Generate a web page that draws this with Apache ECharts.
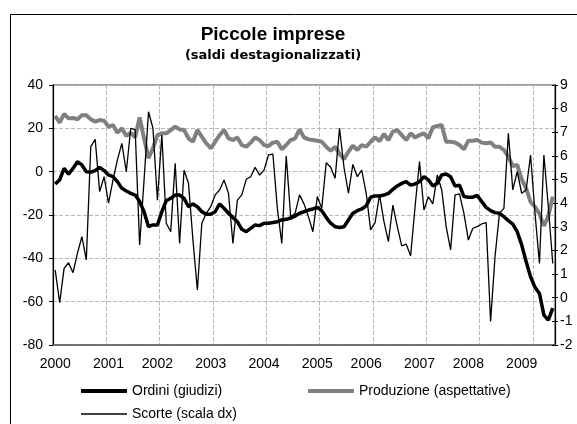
<!DOCTYPE html>
<html>
<head>
<meta charset="utf-8">
<script src="https://cdn.jsdelivr.net/npm/echarts@6/dist/echarts.min.js"></script>
<style>html,body{margin:0;padding:0;background:#fff}#c{width:577px;height:424px}</style>
</head>
<body>
<div id="c"></div>
<script>
// ---- data ----
var yearLabels = ['2000','2001','2002','2003','2004','2005','2006','2007','2008','2009'];
var yearLabelIndex = [0,12,23,35,47,59,70,82,93,105];
var startYear = 2000, nMonths = 113;

var ordini = [-5.7,-3.8,1.5,-1.2,1.5,4.6,3.1,0,-0.2,0.5,2,0.5,
-1.5,-2.3,-4.6,-7.7,-8.9,-10,-10.8,-13.8,-18.5,-25.4,-24.6,-24.6,
-18.5,-13.4,-12.3,-10.8,-10.8,-12.3,-16.2,-14.9,-16.2,-18.5,-19.7,-19.7,
-18.5,-14.9,-16.9,-19.2,-21.1,-23.1,-26.6,-27.7,-26.2,-24.6,-24.9,-23.8,
-23.8,-23.5,-23.1,-22.3,-22,-21.4,-20.5,-19.2,-18.5,-17.7,-17.2,-16.5,
-18,-21.1,-23.8,-25.4,-25.8,-25.4,-22.3,-19.2,-18,-17.2,-15.8,-11.8,
-11.2,-11.2,-10.8,-10,-8.2,-6.6,-5.4,-4.6,-6.2,-5.7,-4.6,-2.3,
-3.8,-6.6,-5.4,-1.5,-1.1,-2.3,-6.6,-6.2,-11.5,-11.8,-11.8,-11,
-13.8,-16.5,-18,-18.9,-19.2,-20.8,-22.6,-24.2,-27.7,-33.8,-41.5,-48.5,
-53.4,-56.2,-66.2,-68.5,-63];

var produzione = [25.7,22.6,26.6,24.6,24.8,24.2,26,26,24.2,23.1,23.8,23.5,
20.8,21.5,18,20,16.5,18,15.8,25,15.4,6.2,10.8,16.9,
17.7,17.7,19.2,20.8,19.5,19.2,15.4,13.8,19.2,16.2,13.1,10.8,
13.8,16.9,19.2,15.4,14.6,15.8,12.3,11.5,13.4,15.8,14.6,12.3,
11.8,13.4,13.8,10.3,12.3,14.6,15.4,19.5,15.8,14.9,14.6,14.3,
13.8,11.5,9.7,11.5,8.2,5.7,9.2,12,10,12.3,11.5,13.8,
15.8,14.1,17.4,14.6,18.5,19.2,16.9,14.6,17.7,15.8,16.9,17.7,
15.4,20.5,21.1,21.5,13.8,13.8,13.5,12.3,10.3,14.3,14.3,14.6,
13.4,13.1,13.5,11.5,11.5,10,6.9,2.6,3.1,-3.5,-7.7,-14,
-16.2,-19.5,-25,-20.5,-11.5];

var scorte = [1.17,-0.21,1.24,1.48,1.06,1.88,2.58,1.6,6.39,6.7,4.49,5.12,
4.0,4.98,5.83,6.53,5.33,7.17,7.1,2.23,4.98,7.87,7.17,4.13,
6.88,3.15,2.79,5.69,2.3,5.4,4.84,2.44,0.33,3.15,3.57,3.85,
4.35,4.56,4.98,4.42,2.3,4.13,4.35,5.01,5.12,5.52,5.19,5.4,
6.04,6.08,3.78,2.3,6.0,3.43,3.57,4.35,3.97,3.43,2.79,4.28,
3.78,5.71,5.52,5.05,7.17,5.52,4.42,5.64,5.12,5.4,4.42,2.87,
3.18,4.35,3.22,2.37,3.92,3.01,2.19,2.27,1.77,3.85,5.76,3.71,
4.28,3.97,5.19,4.56,3.01,2.02,4.35,4.39,3.57,2.44,2.94,3.01,
3.12,3.18,-1.0,1.74,3.57,3.78,6.96,4.56,5.33,4.42,4.56,6.04,
3.57,1.45,6.04,3.85,1.45];

var leftTicks = {min:-80, max:40, interval:20};
var rightTicks = {min:-2, max:9, interval:1};

// ---- build ----
var months = [];
for (var k = 0; k < nMonths; k++) {
  var y = startYear + Math.floor(k / 12), m = (k % 12) + 1;
  months.push(y + '-' + (m < 10 ? '0' + m : m));
}
var FONT = "'Liberation Sans', Arial, sans-serif";
var GRIDSTYLE = {color:'#b8b8b8', type:'dashed', width:1};
var chart = echarts.init(document.getElementById('c'), null, {renderer:'canvas'});
chart.setOption({
  animation: false,
  backgroundColor: '#fff',
  title: [
    {text:'Piccole imprese', left:273, top:25, textAlign:'center', padding:0,
     textStyle:{fontFamily:FONT, fontSize:19, fontWeight:'bold', color:'#000'}},
    {text:'(saldi destagionalizzati)', left:273, top:49, textAlign:'center', padding:0,
     textStyle:{fontFamily:"'DejaVu Sans', sans-serif", fontSize:13, fontWeight:'bold', color:'#000'}}
  ],
  graphic: [{type:'rect', silent:true, shape:{x:10.5, y:14.5, width:700, height:600},
             style:{fill:'none', stroke:'#000', lineWidth:1}}],
  grid: {left:53, right:22, top:85, bottom:79, show:true, borderColor:'#808080', borderWidth:1.5, backgroundColor:'transparent'},
  legend: [
    {data:['Ordini (giudizi)'], left:81, top:384, padding:0, itemWidth:46, itemHeight:4, icon:'rect', selectedMode:false,
     textStyle:{fontFamily:FONT, fontSize:14, color:'#000'}},
    {data:['Produzione (aspettative)'], left:308, top:384, padding:0, itemWidth:46, itemHeight:4, icon:'rect', selectedMode:false,
     textStyle:{fontFamily:FONT, fontSize:14, color:'#000'}},
    {data:['Scorte (scala dx)'], left:81, top:407, padding:0, itemWidth:46, itemHeight:1.5, icon:'rect', selectedMode:false,
     textStyle:{fontFamily:FONT, fontSize:14, color:'#000'}}
  ],
  xAxis: {
    type:'category', data:months, boundaryGap:true,
    axisLine:{onZero:false, lineStyle:{color:'#606060', width:1.5}},
    axisTick:{show:false},
    axisLabel:{
      interval:function(i){ return yearLabelIndex.indexOf(i) >= 0; },
      formatter:function(v, i){ var p = yearLabelIndex.indexOf(i); return p >= 0 ? yearLabels[p] : ''; },
      fontFamily:FONT, fontSize:14, color:'#000', margin:12
    },
    splitLine:{show:true, interval:11, lineStyle:GRIDSTYLE}
  },
  yAxis: [
    {type:'value', min:leftTicks.min, max:leftTicks.max, interval:leftTicks.interval, position:'left',
     axisLine:{show:true, onZero:false, lineStyle:{color:'#000', width:1.2}},
     axisTick:{show:true, length:4, lineStyle:{color:'#000'}},
     axisLabel:{fontFamily:FONT, fontSize:14, color:'#000', margin:10},
     splitLine:{show:true, lineStyle:GRIDSTYLE}},
    {type:'value', min:rightTicks.min, max:rightTicks.max, interval:rightTicks.interval, position:'right',
     axisLine:{show:true, onZero:false, lineStyle:{color:'#000', width:1.2}},
     axisTick:{show:true, length:3, lineStyle:{color:'#000'}},
     axisLabel:{fontFamily:FONT, fontSize:14, color:'#000', margin:5},
     splitLine:{show:false}},
    {type:'value', min:rightTicks.min, max:rightTicks.max, interval:rightTicks.interval, position:'right',
     axisLine:{show:false, onZero:false},
     axisTick:{show:true, inside:true, length:3, lineStyle:{color:'#000'}},
     axisLabel:{show:false},
     splitLine:{show:false}}
  ],
  series: [
    {name:'Ordini (giudizi)', type:'line', yAxisIndex:0, data:ordini, symbol:'none',
     itemStyle:{color:'#000'}, lineStyle:{color:'#000', width:3.5}, z:3},
    {name:'Produzione (aspettative)', type:'line', yAxisIndex:0, data:produzione, symbol:'none',
     itemStyle:{color:'#808080'}, lineStyle:{color:'#808080', width:4}, z:2},
    {name:'Scorte (scala dx)', type:'line', yAxisIndex:1, data:scorte, symbol:'none',
     itemStyle:{color:'#000'}, lineStyle:{color:'#000', width:1.3}, z:4}
  ]
});
</script>
</body>
</html>
